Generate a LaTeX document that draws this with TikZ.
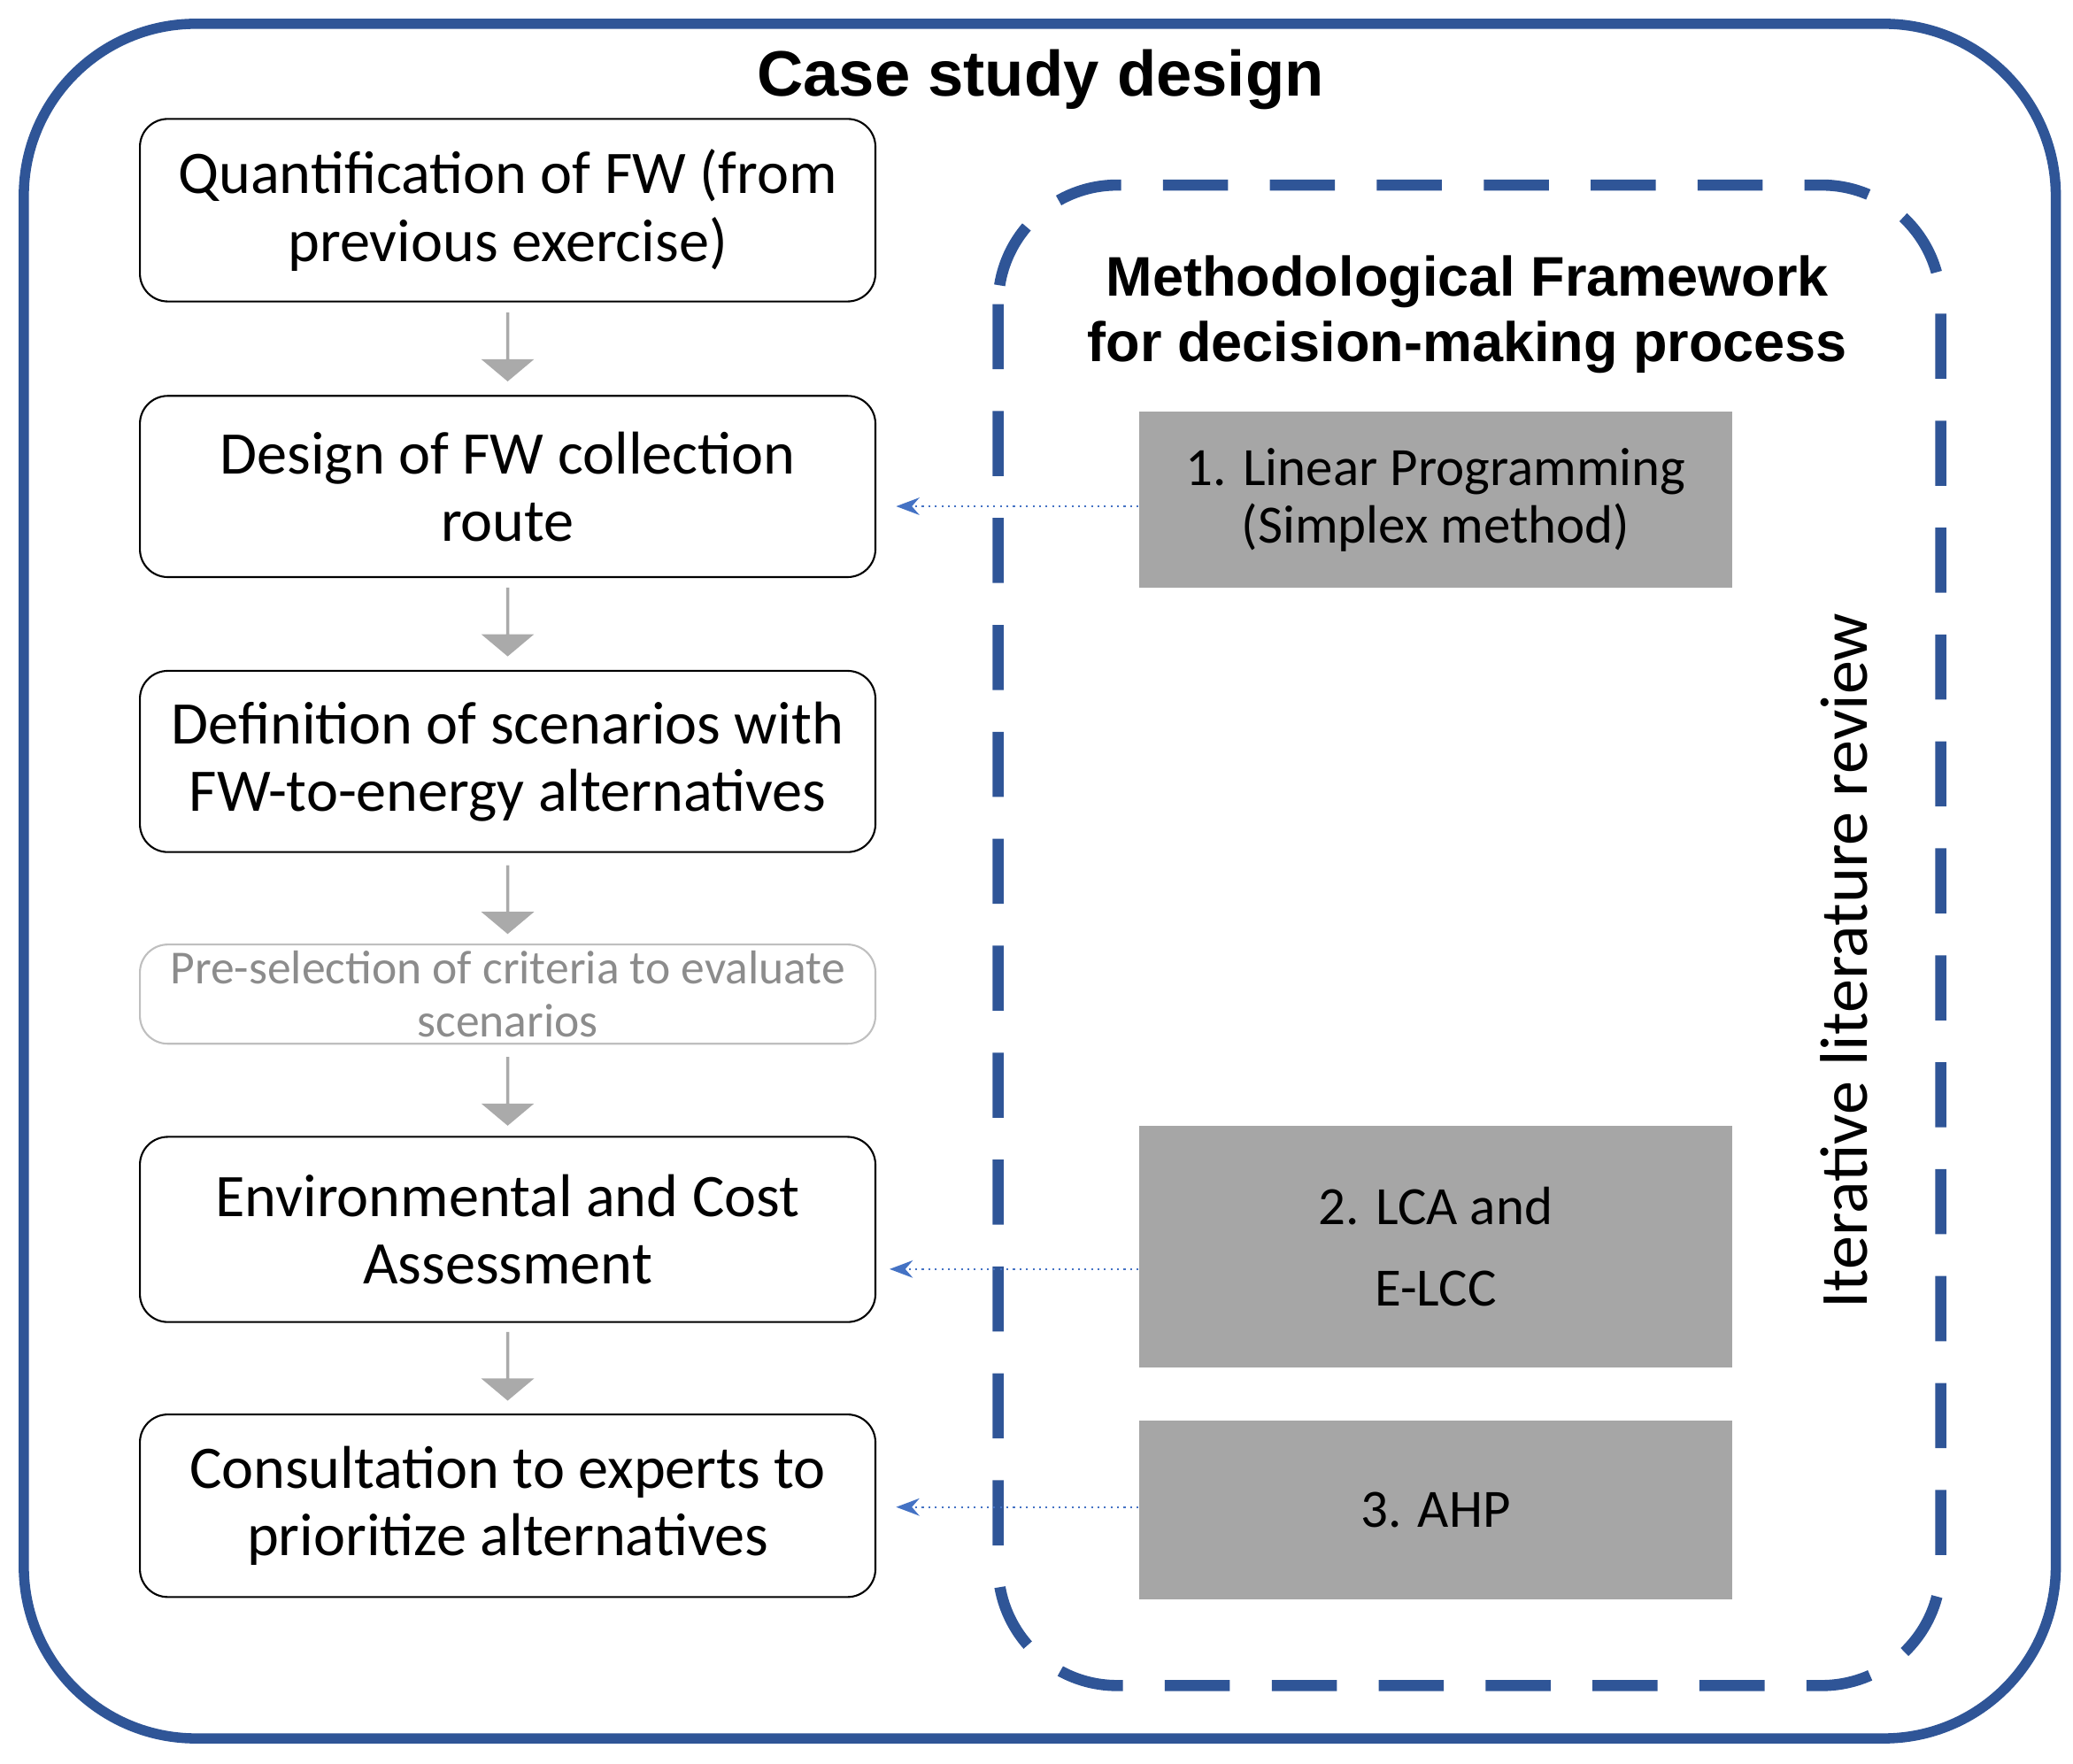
\documentclass[tikz,border=0pt]{standalone}
\usepackage{fontspec}
\setmainfont{Carlito}
\newfontfamily\headfont{Liberation Sans}
\usetikzlibrary{shapes.arrows,arrows.meta}
\definecolor{framenavy}{RGB}{47,85,151}
\definecolor{boxgrey}{RGB}{166,166,166}
\definecolor{arrowgrey}{RGB}{170,170,170}
\definecolor{linkblue}{RGB}{68,114,196}
\tikzset{
  stage/.style={draw, rounded corners=6pt, minimum width=5.56cm, inner sep=1pt, align=center, font=\fontsize{13}{14.5}\selectfont},
  method/.style={fill=boxgrey, minimum width=4.48cm, inner sep=1pt, align=center, font=\fontsize{11.6}{12.4}\selectfont},
  down/.style={single arrow, fill=arrowgrey, draw=none, rotate=-90, minimum width=0.40cm,
    single arrow head extend=0.11cm, single arrow tip angle=100, inner sep=0pt, minimum height=0.52cm},
  link/.style={draw=linkblue, densely dotted, -{Stealth[length=5pt]}}
}
\begin{document}
\begin{tikzpicture}[x=0.01cm,y=-0.01cm]
        \useasboundingbox (0,0) rectangle (1568,1334);
        % frames
        \draw[framenavy, line width=2.2pt, rounded corners=1.3cm] (18,18) rectangle (1555,1315);
        \draw[framenavy, line width=2.4pt, dash pattern=on 14pt off 9pt, rounded corners=0.9cm] (755,140) rectangle (1468,1275);
        \node[font=\headfont\bfseries\fontsize{13.8}{16}\selectfont] (title) at (787,60) {Case study design};
        \node[font=\headfont\bfseries\fontsize{12}{14.2}\selectfont, align=center] (frame) at (1110,238) {Methodological Framework\\for decision-making process};
        \node[rotate=90, font=\fontsize{14.5}{16}\selectfont] (review) at (1395,727) {Iterative literature review};
        % left stages
        \node[stage, minimum height=1.38cm] (s1) at (384,159) {Quantification of FW (from\\previous exercise)};
        \node[stage, minimum height=1.37cm] (s2) at (384,368) {Design of FW collection\\route};
        \node[stage, minimum height=1.37cm] (s3) at (384,576) {Definition of scenarios with\\FW-to-energy alternatives};
        \node[stage, draw=black!25, text=black!45, minimum height=0.75cm, font=\fontsize{10.2}{11.4}\selectfont] (s4) at (384,752) {Pre-selection of criteria to evaluate\\scenarios};
        \node[stage, minimum height=1.40cm] (s5) at (384,930) {Environmental and Cost\\Assessment};
        \node[stage, minimum height=1.38cm] (s6) at (384,1139) {Consultation to experts to\\prioritize alternatives};
        % block arrows
        \node[down] (a1) at (384,262) {};
        \node[down] (a2) at (384,470) {};
        \node[down] (a3) at (384,680) {};
        \node[down] (a4) at (384,825) {};
        \node[down] (a5) at (384,1033) {};
        % methods
        \node[method, minimum height=1.33cm] (m1) at (1086,378) {1. Linear Programming\\(Simplex method)};
        \node[method, minimum height=1.83cm, font=\fontsize{11.6}{17.6}\selectfont] (m2) at (1086,943) {2. LCA and\\E-LCC};
        \node[method, minimum height=1.35cm] (m3) at (1086,1142) {3. AHP};
        \draw[link] (m1.west |- 0,383) -- ([xshift=0.15cm]s2.east |- 0,383);
        \draw[link] (m2.west |- 0,960) -- ([xshift=0.1cm]s5.east |- 0,960);
        \draw[link] (m3.west |- 0,1140) -- ([xshift=0.15cm]s6.east |- 0,1140);
\end{tikzpicture}
\end{document}
